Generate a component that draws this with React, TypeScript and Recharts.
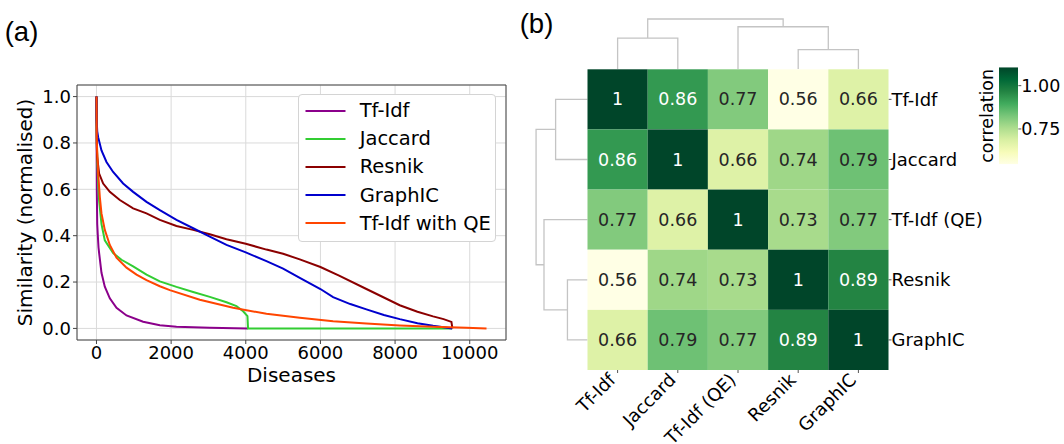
import React from "react";
import {
  Bar,
  CartesianGrid,
  ComposedChart,
  Legend,
  Line,
  LineChart,
  ReferenceLine,
  Scatter,
  ScatterChart,
  XAxis,
  YAxis,
} from "recharts";

type Pt = [number, number];

// (a) sorted similarity curves, [disease rank, normalised similarity]
const TFIDF: Pt[] = [
  [0, 1], [8, 0.6], [20, 0.45], [36, 0.4], [54, 0.35], [71, 0.325], [134, 0.24],
  [223, 0.18], [357, 0.13], [536, 0.089], [804, 0.056], [1250, 0.029],
  [1697, 0.014], [2143, 0.007], [3036, 0.003], [4050, 0],
];
const JACCARD: Pt[] = [
  [0, 1], [9, 0.8], [27, 0.7], [54, 0.6], [71, 0.55], [134, 0.45], [223, 0.38],
  [446, 0.325], [670, 0.296], [982, 0.268], [1340, 0.232], [1697, 0.203],
  [2143, 0.179], [2590, 0.157], [3036, 0.136], [3483, 0.113], [3750, 0.096],
  [3929, 0.074], [4045, 0.053], [4060, 0], [9530, 0],
];
const RESNIK: Pt[] = [
  [0, 1], [5, 0.85], [10, 0.78], [18, 0.74], [71, 0.668], [179, 0.625],
  [357, 0.589], [625, 0.554], [982, 0.518], [1340, 0.496], [1697, 0.468],
  [2143, 0.442], [2590, 0.425], [3036, 0.406], [3483, 0.385], [4000, 0.365],
  [4554, 0.34], [5000, 0.322], [5447, 0.298], [6000, 0.265], [6500, 0.228],
  [7232, 0.17], [8125, 0.1], [8600, 0.072], [9018, 0.052], [9300, 0.04],
  [9510, 0.028], [9536, 0],
];
const GRAPHIC: Pt[] = [
  [0, 1], [5, 0.9], [20, 0.85], [45, 0.825], [134, 0.768], [268, 0.718],
  [446, 0.675], [714, 0.625], [982, 0.589], [1340, 0.546], [1697, 0.51],
  [2143, 0.468], [2590, 0.432], [3036, 0.396], [3483, 0.36], [4000, 0.328],
  [4554, 0.29], [5000, 0.258], [5447, 0.218], [6000, 0.17], [6339, 0.135],
  [6800, 0.105], [7232, 0.082], [7700, 0.058], [8125, 0.04], [8600, 0.022],
  [9018, 0.011], [9300, 0.005], [9530, 0],
];
const TFIDF_QE: Pt[] = [
  [0, 1], [10, 0.8], [45, 0.668], [89, 0.568], [134, 0.496], [223, 0.425],
  [357, 0.36], [536, 0.305], [804, 0.262], [1072, 0.232], [1340, 0.208],
  [1697, 0.182], [1965, 0.165], [2768, 0.124], [3661, 0.089], [4554, 0.063],
  [5447, 0.046], [6340, 0.031], [7233, 0.021], [8126, 0.013], [9019, 0.007],
  [9912, 0.003], [10450, 0],
];

const SERIES = [
  { name: "Tf-Idf", color: "#8b008b", data: TFIDF },
  { name: "Jaccard", color: "#32cd32", data: JACCARD },
  { name: "Resnik", color: "#8b0000", data: RESNIK },
  { name: "GraphIC", color: "#0000cd", data: GRAPHIC },
  { name: "Tf-Idf with QE", color: "#ff4500", data: TFIDF_QE },
];

const X_TICKS = [0, 2000, 4000, 6000, 8000, 10000];
const Y_TICKS = [0, 0.2, 0.4, 0.6, 0.8, 1.0];
const X_DOMAIN = [-522, 10972];
const Y_DOMAIN = [-0.05, 1.05];

// (b) correlation between methods
const METHODS = ["Tf-Idf", "Jaccard", "Tf-Idf (QE)", "Resnik", "GraphIC"];
const CORR = [
  [1, 0.86, 0.77, 0.56, 0.66],
  [0.86, 1, 0.66, 0.74, 0.79],
  [0.77, 0.66, 1, 0.73, 0.77],
  [0.56, 0.74, 0.73, 1, 0.89],
  [0.66, 0.79, 0.77, 0.89, 1],
];
// scipy-style linkage: [cluster a, cluster b, distance]
const LINKAGE: [number, number, number][] = [
  [0, 1, 0.62],
  [3, 4, 0.39],
  [2, 6, 0.846],
  [5, 7, 1.0],
];
const CBAR_TICKS = [0.75, 1.0];
const CBAR_RANGE = [0.546, 1.106];
const V_MIN = 0.56;
const V_MAX = 1.0;

const YLGN = [
  "#ffffe5", "#f7fcb9", "#d9f0a3", "#addd8e", "#78c679",
  "#41ab5d", "#238443", "#006837", "#004529",
];

function ylgn(t: number) {
  const c = Math.max(0, Math.min(1, t)) * (YLGN.length - 1);
  const i = Math.min(Math.floor(c), YLGN.length - 2);
  const f = c - i;
  const a = YLGN[i], b = YLGN[i + 1];
  const ch = (s: string, k: number) => parseInt(s.slice(1 + 2 * k, 3 + 2 * k), 16);
  const out = [0, 1, 2].map((k) => Math.round(ch(a, k) + (ch(b, k) - ch(a, k)) * f));
  return `rgb(${out.join(",")})`;
}

function dendroLinks() {
  const pos = METHODS.map((_, i) => i + 0.5);
  const hgt = METHODS.map(() => 0);
  const links: { p: number; d: number }[][] = [];
  LINKAGE.forEach(([a, b, d]) => {
    links.push([
      { p: pos[a], d: hgt[a] },
      { p: pos[a], d },
      { p: pos[b], d },
      { p: pos[b], d: hgt[b] },
    ]);
    pos.push((pos[a] + pos[b]) / 2);
    hgt.push(d);
  });
  return links;
}

const FONT = "'DejaVu Sans', sans-serif";
const SPINE = "#444";
const DENDRO = "#c4c4c4";
const CELL_W = 301 / 5;
const CELL_H = 300.7 / 5;

// legend keeps the plotting order (recharts would sort by name)
const LegendBox = () => (
  <div
    style={{
      width: 198,
      height: 148,
      boxSizing: "border-box",
      border: "1px solid #d4d4d4",
      borderRadius: 4,
      background: "#fff",
      paddingTop: 1.6,
      fontFamily: FONT,
    }}
  >
    {SERIES.map((s) => (
      <div key={s.name} style={{ display: "flex", alignItems: "center", height: 28.2 }}>
        <svg width={60.4} height={10} style={{ flex: "none" }}>
          <line x1={6.5} x2={46.5} y1={5} y2={5} stroke={s.color} strokeWidth={2} />
        </svg>
        <span style={{ fontSize: 19.5, lineHeight: 1, color: "#000" }}>{s.name}</span>
      </div>
    ))}
  </div>
);

const HeatCell = (props: any) => {
  const { cx, cy, payload } = props;
  const v = payload.v;
  return (
    <g>
      <rect
        x={cx - CELL_W / 2}
        y={cy - CELL_H / 2}
        width={CELL_W}
        height={CELL_H}
        fill={ylgn((v - V_MIN) / (V_MAX - V_MIN))}
      />
      <text
        x={cx}
        y={cy}
        textAnchor="middle"
        dominantBaseline="central"
        fontSize={17.5}
        fontFamily={FONT}
        fill={v > 0.82 ? "#fff" : "#262626"}
      >
        {String(v)}
      </text>
    </g>
  );
};

const noDot = () => <g />;

export default function App() {
  const links = dendroLinks();
  const cells = CORR.flatMap((row, r) =>
    row.map((v, c) => ({ x: c + 0.5, y: r + 0.5, v }))
  );
  const centers = METHODS.map((_, i) => i + 0.5);
  const tickStyle = { fontSize: 18, fill: "#000", fontFamily: FONT };

  return (
    <div
      style={{
        position: "absolute",
        left: 0,
        top: 0,
        width: 1064,
        height: 444,
        background: "#fff",
        overflow: "hidden",
        fontFamily: FONT,
      }}
    >
      {/* (a) */}
      <div style={{ position: "absolute", left: 0, top: 0 }}>
        <LineChart width={520} height={400} margin={{ top: 85, right: 14, bottom: 10, left: 17 }}>
          <CartesianGrid stroke="#dadada" strokeWidth={1} />
          <XAxis
            dataKey="x"
            type="number"
            domain={X_DOMAIN}
            allowDataOverflow
            ticks={X_TICKS}
            interval={0}
            height={50}
            tickSize={4}
            tickMargin={2}
            tick={tickStyle}
            stroke={SPINE}
            label={{ value: "Diseases", position: "insideBottom", offset: 7.6, fontSize: 20, fill: "#000" }}
          />
          <YAxis
            type="number"
            domain={Y_DOMAIN}
            allowDataOverflow
            ticks={Y_TICKS}
            interval={0}
            width={60}
            tickSize={4}
            tickMargin={2}
            tick={tickStyle}
            tickFormatter={(v: number) => v.toFixed(1)}
            stroke={SPINE}
            label={{
              value: "Similarity (normalised)",
              angle: -90,
              position: "insideLeft",
              offset: 7.5,
              fontSize: 20,
              fill: "#000",
              style: { textAnchor: "middle" },
            }}
          />
          <ReferenceLine x={X_DOMAIN[1]} stroke={SPINE} />
          <ReferenceLine y={Y_DOMAIN[1]} stroke={SPINE} />
          {SERIES.map((s) => (
            <Line
              key={s.name}
              name={s.name}
              data={s.data.map(([x, y]) => ({ x, y }))}
              dataKey="y"
              type="linear"
              stroke={s.color}
              strokeWidth={2}
              dot={false}
              isAnimationActive={false}
            />
          ))}
          <Legend
            layout="vertical"
            align="center"
            verticalAlign="middle"
            content={<LegendBox />}
            wrapperStyle={{ left: 298.3, top: 94, width: 198, height: 148 }}
          />
        </LineChart>
      </div>

      {/* (b) top dendrogram */}
      <div style={{ position: "absolute", left: 540, top: 0 }}>
        <ScatterChart width={524} height={69.3} margin={{ top: 16.5, left: 47.5, right: 175.5, bottom: 0 }}>
          <XAxis dataKey="p" type="number" domain={[0, 5]} hide />
          <YAxis dataKey="d" type="number" domain={[0, 1.05]} hide />
          {links.map((l, i) => (
            <Scatter
              key={i}
              data={l}
              line={{ stroke: DENDRO, strokeWidth: 1.3 }}
              lineType="joint"
              shape={noDot}
              isAnimationActive={false}
            />
          ))}
        </ScatterChart>
      </div>

      {/* (b) left dendrogram */}
      <div style={{ position: "absolute", left: 530, top: 0 }}>
        <ScatterChart width={57.5} height={444} margin={{ top: 69.3, left: 3.5, right: 0, bottom: 74 }}>
          <XAxis dataKey="d" type="number" domain={[0, 1.05]} reversed hide />
          <YAxis dataKey="p" type="number" domain={[0, 5]} reversed hide />
          {links.map((l, i) => (
            <Scatter
              key={i}
              data={l}
              line={{ stroke: DENDRO, strokeWidth: 1.3 }}
              lineType="joint"
              shape={noDot}
              isAnimationActive={false}
            />
          ))}
        </ScatterChart>
      </div>

      {/* (b) heatmap */}
      <div style={{ position: "absolute", left: 540, top: 0 }}>
        <ScatterChart width={524} height={444} margin={{ top: 69.3, left: 47.5, right: 55.5, bottom: 4 }}>
          <XAxis
            dataKey="x"
            type="number"
            domain={[0, 5]}
            ticks={centers}
            interval={0}
            tickFormatter={(v: number) => METHODS[Math.floor(v)]}
            height={70}
            axisLine={false}
            tickSize={3}
            tickMargin={2}
            tickLine={{ stroke: "#555" }}
            angle={-45}
            textAnchor="end"
            tick={{ ...tickStyle, dx: -10, dy: -3 }}
          />
          <YAxis
            dataKey="y"
            type="number"
            orientation="right"
            domain={[0, 5]}
            reversed
            ticks={centers}
            interval={0}
            tickFormatter={(v: number) => METHODS[Math.floor(v)]}
            width={120}
            axisLine={false}
            tickSize={3}
            tickMargin={0}
            tickLine={{ stroke: "#555" }}
            tick={{ ...tickStyle, textAnchor: "start" }}
          />
          <Scatter data={cells} shape={HeatCell} isAnimationActive={false} />
        </ScatterChart>
      </div>

      {/* (b) colour bar */}
      <div style={{ position: "absolute", left: 970, top: 0 }}>
        <ComposedChart
          width={94}
          height={200}
          data={[{ k: "c", r: CBAR_RANGE }]}
          margin={{ top: 67.3, left: 0, right: 0.7, bottom: 35.7 }}
          barCategoryGap={0}
        >
          <defs>
            <linearGradient id="cbar" x1="0" y1="1" x2="0" y2="0">
              {YLGN.map((c, i) => (
                <stop key={c} offset={i / (YLGN.length - 1)} stopColor={c} />
              ))}
            </linearGradient>
          </defs>
          <XAxis dataKey="k" type="category" hide />
          <YAxis
            yAxisId="lab"
            orientation="left"
            width={29}
            tick={false}
            axisLine={false}
            tickLine={false}
            label={{
              value: "correlation",
              angle: -90,
              position: "insideLeft",
              offset: 16.9,
              fontSize: 17.5,
              fill: "#000",
              style: { textAnchor: "middle" },
            }}
          />
          <YAxis
            yAxisId="cb"
            orientation="right"
            type="number"
            domain={CBAR_RANGE}
            allowDataOverflow
            ticks={CBAR_TICKS}
            interval={0}
            width={45}
            axisLine={false}
            tickSize={3}
            tickMargin={0}
            tickLine={{ stroke: "#555" }}
            tick={{ fontSize: 17.5, fill: "#000", fontFamily: FONT }}
            tickFormatter={(v: number) => v.toFixed(2)}
          />
          <Bar yAxisId="cb" dataKey="r" fill="url(#cbar)" isAnimationActive={false} />
        </ComposedChart>
      </div>

      <div
        style={{
          position: "absolute",
          left: 4.7,
          top: 18.4,
          fontFamily: "'Liberation Sans', sans-serif",
          fontSize: 27.5,
          lineHeight: 1,
        }}
      >
        (a)
      </div>
      <div
        style={{
          position: "absolute",
          left: 519.7,
          top: 10,
          fontFamily: "'Liberation Sans', sans-serif",
          fontSize: 27.5,
          lineHeight: 1,
        }}
      >
        (b)
      </div>
    </div>
  );
}
